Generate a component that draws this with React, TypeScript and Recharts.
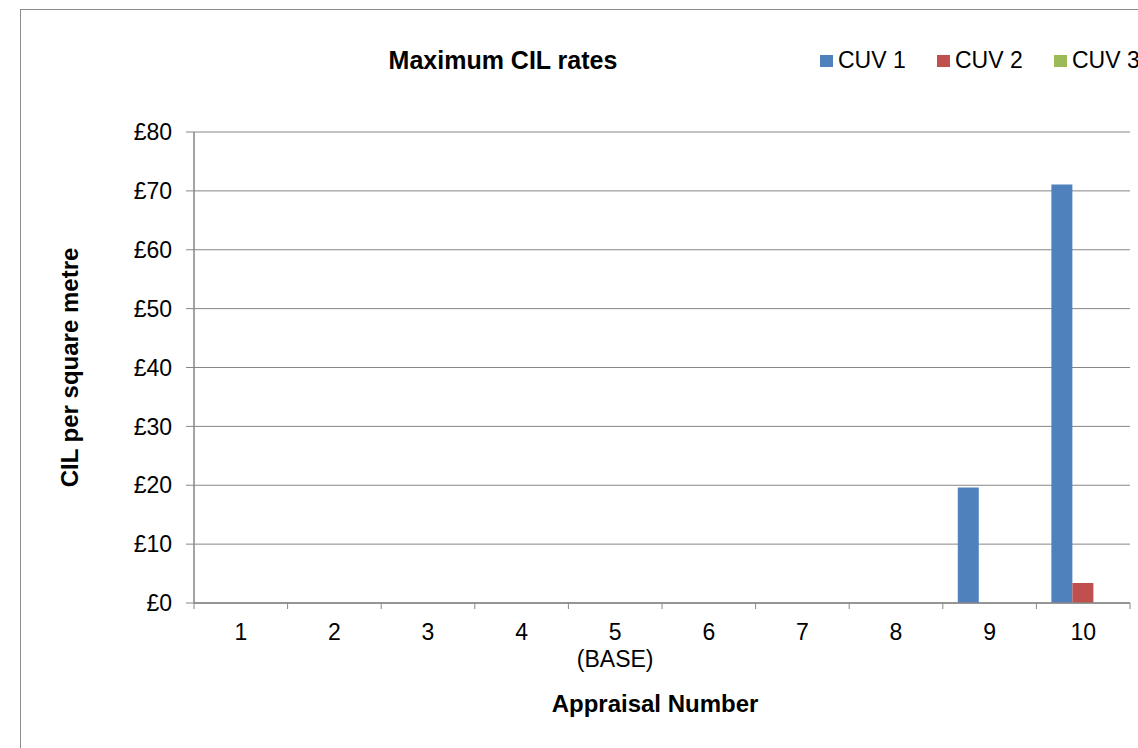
import { BarChart, Bar, XAxis, YAxis, CartesianGrid, Legend } from 'recharts'

const appraisals = ['1', '2', '3', '4', '5\n(BASE)', '6', '7', '8', '9', '10']
const cuv1 = [0, 0, 0, 0, 0, 0, 0, 0, 19.6, 71.1]
const cuv2 = [0, 0, 0, 0, 0, 0, 0, 0, 0, 3.4]
const cuv3 = [0, 0, 0, 0, 0, 0, 0, 0, 0, 0]
const yTicks = [0, 10, 20, 30, 40, 50, 60, 70, 80]

const series = [
  { key: 'cuv1', name: 'CUV 1', color: '#4F81BD' },
  { key: 'cuv2', name: 'CUV 2', color: '#C0504D' },
  { key: 'cuv3', name: 'CUV 3', color: '#9BBB59' },
]

const data = appraisals.map((label, i) => ({
  label,
  cuv1: cuv1[i],
  cuv2: cuv2[i],
  cuv3: cuv3[i],
}))

const FONT = '"Liberation Sans", Arial, sans-serif'
const AXIS_GREY = '#868686'

// category labels with tick marks on the band edges (Excel style)
function AppraisalTick(props: any) {
  const { x, y, payload, index, visibleTicksCount } = props
  const half = payload.offset ?? 0
  const lines = String(payload.value).split('\n')
  return (
    <g>
      <line x1={x - half} x2={x - half} y1={y} y2={y + 6} stroke={AXIS_GREY} />
      {index === visibleTicksCount - 1 && (
        <line x1={x + half} x2={x + half} y1={y} y2={y + 6} stroke={AXIS_GREY} />
      )}
      <text x={x} y={y + 37} textAnchor="middle" fontSize={23} fill="#000" fontFamily={FONT}>
        {lines.map((t, i) => (
          <tspan key={i} x={x} dy={i === 0 ? 0 : 27}>
            {t}
          </tspan>
        ))}
      </text>
    </g>
  )
}

function LegendRow() {
  return (
    <div style={{ display: 'flex', fontFamily: FONT, fontSize: 23, color: '#000', whiteSpace: 'nowrap' }}>
      {series.map((s) => (
        <div key={s.key} style={{ display: 'flex', alignItems: 'center', width: 117, flexShrink: 0 }}>
          <span style={{ width: 13, height: 12, background: s.color, marginRight: 5, display: 'inline-block' }} />
          <span>{s.name}</span>
        </div>
      ))}
    </div>
  )
}

export default function App() {
  return (
    <div
      style={{
        position: 'absolute',
        left: 0,
        top: 0,
        width: 1138,
        height: 748,
        overflow: 'hidden',
        background: '#fff',
        fontFamily: FONT,
      }}
    >
      <div
        style={{
          position: 'absolute',
          left: 20,
          top: 9,
          width: 1300,
          height: 900,
          border: '1px solid #8c8c8c',
        }}
      />
      <div
        style={{
          position: 'absolute',
          left: 303,
          top: 48,
          width: 400,
          textAlign: 'center',
          fontSize: 25,
          lineHeight: 1,
          fontWeight: 'bold',
          color: '#000',
        }}
      >
        Maximum CIL rates
      </div>
      <BarChart
        width={1138}
        height={748}
        data={data}
        margin={{ top: 132, right: 8, left: 0, bottom: 0 }}
        barCategoryGap="16%"
        barGap={0}
      >
        <CartesianGrid vertical={false} stroke={AXIS_GREY} />
        <XAxis
          dataKey="label"
          height={145}
          tickSize={0}
          tickMargin={0}
          tickLine={false}
          axisLine={{ stroke: AXIS_GREY, strokeWidth: 1.5 }}
          tick={<AppraisalTick />}
          interval={0}
          label={{
            value: 'Appraisal Number',
            position: 'insideBottom',
            offset: 36,
            dx: -7,
            style: { fontWeight: 'bold', fontSize: 24, fill: '#000', fontFamily: FONT },
          }}
        />
        <YAxis
          width={194}
          domain={[0, 80]}
          ticks={yTicks}
          tickSize={8}
          tickMargin={14}
          tickFormatter={(v) => `£${v}`}
          tick={{ fontSize: 23, fill: '#000', fontFamily: FONT }}
          tickLine={{ stroke: AXIS_GREY }}
          axisLine={{ stroke: AXIS_GREY, strokeWidth: 1.5 }}
          label={{
            value: 'CIL per square metre',
            angle: -90,
            position: 'center',
            dx: -28,
            style: { fontWeight: 'bold', fontSize: 24, fill: '#000', fontFamily: FONT, textAnchor: 'middle' },
          }}
        />
        <Legend
          layout="vertical"
          align="center"
          verticalAlign="middle"
          wrapperStyle={{ left: 820, top: 47, width: 400 }}
          content={<LegendRow />}
        />
        {series.map((s) => (
          <Bar key={s.key} dataKey={s.key} name={s.name} fill={s.color} isAnimationActive={false} />
        ))}
      </BarChart>
    </div>
  )
}
